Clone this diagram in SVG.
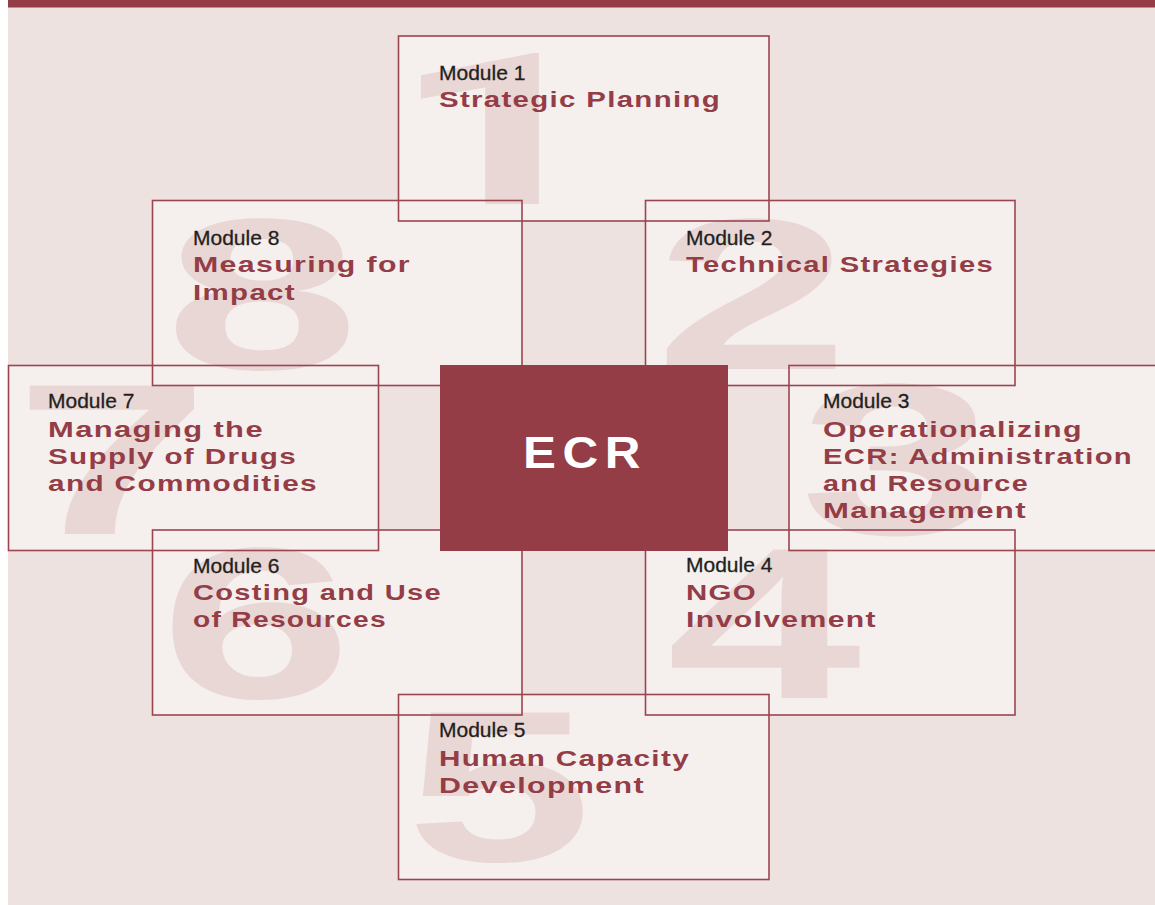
<svg xmlns="http://www.w3.org/2000/svg" width="1155" height="905" viewBox="0 0 1155 905">
<style>
.bg{fill:#ede2e0}
.fill{fill:#f5f0ee}
.frame{fill:none;stroke:#9b4551;stroke-width:1.6}
.num{font-family:"Liberation Sans",Arial,sans-serif;font-weight:700;font-size:216px;fill:#e9d7d5;text-anchor:middle}
.one{font-family:Roboto,"Liberation Sans",sans-serif;font-weight:700;font-size:212px;fill:#e9d7d5;text-anchor:middle}
.mod{font-family:"Liberation Sans",Arial,sans-serif;font-size:21px;fill:#231f20;stroke:#231f20;stroke-width:0.3}
.ttl{font-family:"Liberation Sans",Arial,sans-serif;font-weight:700;font-size:22px;fill:#943d47;letter-spacing:1px}
.ecr{font-family:"Liberation Sans",Arial,sans-serif;font-weight:700;font-size:45px;fill:#ffffff;letter-spacing:6px}
</style>
<rect x="0" y="0" width="1155" height="905" fill="#ffffff"/>
<rect class="bg" x="8" y="0" width="1147" height="905"/>
<rect x="8" y="0" width="1147" height="7.5" fill="#943d47"/>

<g id="fills">
<rect class="fill" x="398.5" y="36" width="370.5" height="185"/>
<rect class="fill" x="152.5" y="200.5" width="369.5" height="185"/>
<rect class="fill" x="645.5" y="200.5" width="369.5" height="185"/>
<rect class="fill" x="8.5" y="365.5" width="370" height="185"/>
<rect class="fill" x="789" y="365.5" width="380" height="185"/>
<rect class="fill" x="152.5" y="530" width="369.5" height="185"/>
<rect class="fill" x="645.5" y="530" width="369.5" height="185"/>
<rect class="fill" x="398.5" y="694.5" width="370.5" height="185"/>
</g>

<g id="numerals">
<text class="one" transform="translate(499,204) scale(1.8,1)">1</text>
<text class="num" transform="translate(752,369) scale(1.62,1)">2</text>
<text class="num" transform="translate(897,534) scale(1.62,1)">3</text>
<text class="num" transform="translate(764,698) scale(1.62,1)">4</text>
<text class="num" transform="translate(499,861) scale(1.55,1)">5</text>
<text class="num" transform="translate(256,698) scale(1.6,1)">6</text>
<text class="num" transform="translate(112,534) scale(1.62,1)">7</text>
<text class="num" transform="translate(262,369) scale(1.62,1)">8</text>
</g>

<g id="module-1">
<rect class="frame" x="398.5" y="36" width="370.5" height="185"/>
<text class="mod" x="439" y="80">Module 1</text>
<text class="ttl" x="439" y="107" textLength="282" lengthAdjust="spacingAndGlyphs">Strategic Planning</text>
</g>
<g id="module-8">
<rect class="frame" x="152.5" y="200.5" width="369.5" height="185"/>
<text class="mod" x="193" y="245">Module 8</text>
<text class="ttl" x="193" y="272" textLength="218" lengthAdjust="spacingAndGlyphs">Measuring for</text>
<text class="ttl" x="193" y="300" textLength="103" lengthAdjust="spacingAndGlyphs">Impact</text>
</g>
<g id="module-2">
<rect class="frame" x="645.5" y="200.5" width="369.5" height="185"/>
<text class="mod" x="686" y="245">Module 2</text>
<text class="ttl" x="686" y="272" textLength="308" lengthAdjust="spacingAndGlyphs">Technical Strategies</text>
</g>
<g id="module-7">
<rect class="frame" x="8.5" y="365.5" width="370" height="185"/>
<text class="mod" x="48" y="408">Module 7</text>
<text class="ttl" x="48" y="437" textLength="216" lengthAdjust="spacingAndGlyphs">Managing the</text>
<text class="ttl" x="48" y="464" textLength="249" lengthAdjust="spacingAndGlyphs">Supply of Drugs</text>
<text class="ttl" x="48" y="491" textLength="270" lengthAdjust="spacingAndGlyphs">and Commodities</text>
</g>
<g id="module-3">
<rect class="frame" x="789" y="365.5" width="380" height="185"/>
<text class="mod" x="823" y="408">Module 3</text>
<text class="ttl" x="823" y="437" textLength="260" lengthAdjust="spacingAndGlyphs">Operationalizing</text>
<text class="ttl" x="823" y="464" textLength="310" lengthAdjust="spacingAndGlyphs">ECR: Administration</text>
<text class="ttl" x="823" y="491" textLength="206" lengthAdjust="spacingAndGlyphs">and Resource</text>
<text class="ttl" x="823" y="518" textLength="204" lengthAdjust="spacingAndGlyphs">Management</text>
</g>
<g id="module-6">
<rect class="frame" x="152.5" y="530" width="369.5" height="185"/>
<text class="mod" x="193" y="573">Module 6</text>
<text class="ttl" x="193" y="600" textLength="249" lengthAdjust="spacingAndGlyphs">Costing and Use</text>
<text class="ttl" x="193" y="627" textLength="194" lengthAdjust="spacingAndGlyphs">of Resources</text>
</g>
<g id="module-4">
<rect class="frame" x="645.5" y="530" width="369.5" height="185"/>
<text class="mod" x="686" y="572">Module 4</text>
<text class="ttl" x="686" y="600" textLength="71" lengthAdjust="spacingAndGlyphs">NGO</text>
<text class="ttl" x="686" y="627" textLength="191" lengthAdjust="spacingAndGlyphs">Involvement</text>
</g>
<g id="module-5">
<rect class="frame" x="398.5" y="694.5" width="370.5" height="185"/>
<text class="mod" x="439" y="737">Module 5</text>
<text class="ttl" x="439" y="766" textLength="251" lengthAdjust="spacingAndGlyphs">Human Capacity</text>
<text class="ttl" x="439" y="793" textLength="206" lengthAdjust="spacingAndGlyphs">Development</text>
</g>

<g id="ecr">
<rect x="440" y="365" width="288" height="186" fill="#943d47"/>
<text class="ecr" x="523" y="468" textLength="124" lengthAdjust="spacingAndGlyphs">ECR</text>
</g>
</svg>
